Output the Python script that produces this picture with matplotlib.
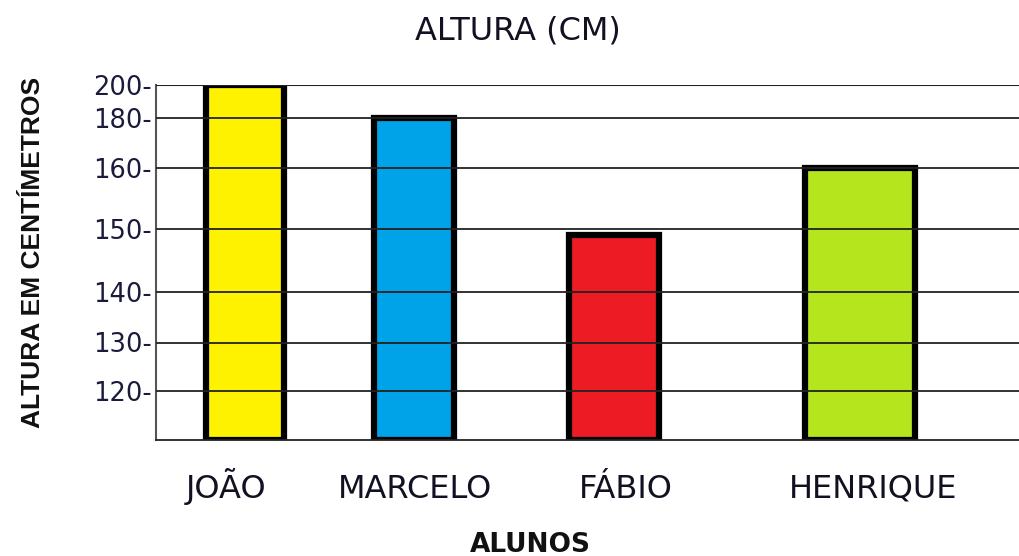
import numpy as np
import matplotlib.pyplot as plt
from matplotlib.scale import FuncScale

# Dados
alunos = ["JOÃO", "MARCELO", "FÁBIO", "HENRIQUE"]
alturas = [200, 180, 149, 160]
cores = ["#FFF200", "#00A2E8", "#ED1C24", "#B5E61D"]
marcas = [120, 130, 140, 150, 160, 180, 200]
base = 110

# Layout (eixo x em "pixels" do desenho original)
centros = [245, 414, 614, 860]
larguras = [78, 80, 90, 110]
pos_rotulos = [226, 415, 626, 873]

# escala irregular do eixo y (o desenho original não é linear)
escala_val = [110, 120, 130, 140, 150, 160, 180, 200]
escala_pos = [0, 49, 97.5, 148.5, 211, 272, 322, 355]


def direto(v):
    return np.interp(v, escala_val, escala_pos)


def inverso(p):
    return np.interp(p, escala_pos, escala_val)


plt.rcParams['font.family'] = ['DejaVu Sans']

fig = plt.figure(figsize=(10.2, 5.56), dpi=100)
ax = fig.add_axes([156 / 1020, 116 / 556, 864 / 1020, 355 / 556])
ax.set_yscale(FuncScale(ax.yaxis, (direto, inverso)))

ax.bar(centros, [a - base for a in alturas], bottom=base, width=larguras,
       color=cores, edgecolor="black", linewidth=4.5, zorder=2)

for m in marcas:
    ax.axhline(m, color="#222222", linewidth=1.3, zorder=3)

ax.set_xlim(156, 1020)
ax.set_ylim(base, 200)
ax.set_yticks(marcas, [f"{m}-" for m in marcas])
ax.set_xticks(pos_rotulos, alunos)
ax.tick_params(axis="y", length=0, pad=3, labelsize=18.5, labelcolor="#1a1a3a")
ax.tick_params(axis="x", length=0, pad=41.5, labelsize=23, labelcolor="#111122")
for rot in ax.get_xticklabels():
    rot.set_verticalalignment("baseline")

for lado in ["top", "right"]:
    ax.spines[lado].set_visible(False)
ax.spines["left"].set_color("#555555")
ax.spines["left"].set_linewidth(1.5)
ax.spines["bottom"].set_color("#222222")
ax.spines["bottom"].set_linewidth(1.3)
ax.axhline(200, color="#222222", linewidth=1.5, zorder=3)

fig.text(518 / 1020, 1 - 40 / 556, "ALTURA (CM)", ha="center", va="baseline",
         fontsize=23, color="#111122")
fig.text(530 / 1020, 1 - 552 / 556, "ALUNOS", ha="center", va="baseline",
         fontsize=19, fontweight="bold", color="#111111")
fig.text(33 / 1020, 1 - 252 / 556, "ALTURA EM CENTÍMETROS", ha="center", va="center",
         rotation=90, fontsize=19, fontweight="bold", color="#111111",
         family=['Liberation Sans', 'DejaVu Sans'])

fig.savefig("out.png", dpi=100)
